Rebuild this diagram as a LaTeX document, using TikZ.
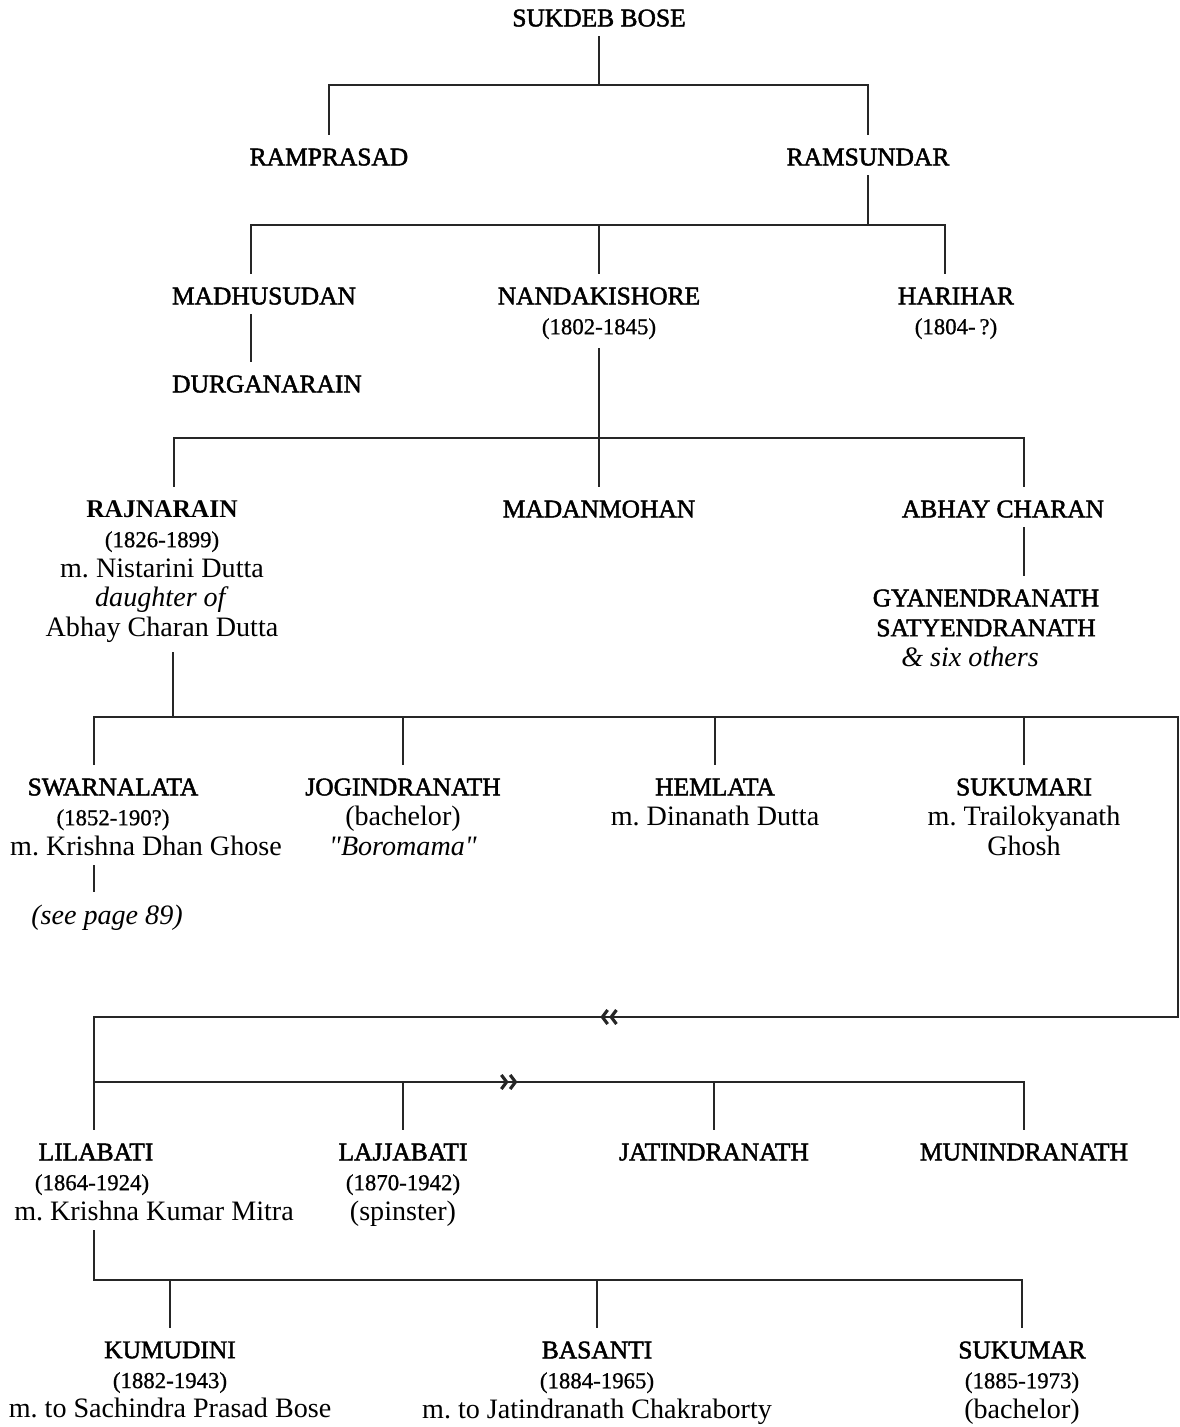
\documentclass[tikz,border=0pt]{standalone}
\usepackage{fontspec}
\setmainfont{Liberation Serif}
\newfontfamily\namefont[FakeBold=1.8]{Liberation Serif}
\newfontfamily\datefont[FakeBold=0.8]{Liberation Serif}
\usepackage{tikz}
\usetikzlibrary{calc}
\usetikzlibrary{arrows.meta,decorations.markings}
\newdimen\pxu \pxu=0.02cm
\newcommand{\pname}[1]{{\namefont\fontsize{14.5}{17}\selectfont #1}}
\newcommand{\pdate}[1]{{\datefont\fontsize{13}{17}\selectfont #1}}
\newcommand{\person}[4]{\node[person] (#1) at ( #2 , #3 ) {#4};}
\tikzset{
  person/.style={anchor=north, align=center, inner sep=0pt, outer sep=0pt,
    text=black, font=\fontsize{16}{17}\selectfont\frenchspacing},
  link/.style={draw=black!85, line width=1.1pt, line cap=rect},
  totop/.style={shorten >=0.28cm},
  fromtop/.style={shorten <=0.28cm},
  frombot/.style={shorten <=0.2cm},
  chev/.tip={Straight Barb[length=3pt,width=8pt,line width=1.8pt] Straight Barb[length=3pt,width=8pt,line width=1.8pt]},
  loopmarks/.style={postaction={decorate}, decoration={markings,
    mark=at position 39.24cm with {\arrow{chev}},
    mark=at position 59.14cm with {\arrow{chev}}}},
}

\begin{document}
\begin{tikzpicture}[x=0.02cm, y=-0.02cm]
        \useasboundingbox (0,0) rectangle (1180,1427);

        % generations 1 and 2
        \person{sukdeb}{599}{9.5}{\pname{SUKDEB BOSE}}
        \person{ramprasad}{329}{148.5}{\pname{RAMPRASAD}}
        \person{ramsundar}{868}{148.5}{\pname{RAMSUNDAR}}

        % generation 3
        \person{madhu}{264}{287.5}{\pname{MADHUSUDAN}}
        \person{nanda}{599}{287.5}{\pname{NANDAKISHORE}\\\pdate{(1802-1845)}}
        \person{harihar}{956}{287.5}{\pname{HARIHAR}\\\pdate{(1804-\,?)}}
        \person{durga}{267}{375.5}{\pname{DURGANARAIN}}

        % generation 4
        \person{rajnarain}{162}{500.5}{{\fontsize{14.5}{17}\selectfont\bfseries RAJNARAIN}\\\pdate{(1826-1899)}\\m. Nistarini Dutta\\\textit{daughter of}\\Abhay Charan Dutta}
        \person{madan}{599}{500.5}{\pname{MADANMOHAN}}
        \person{abhay}{1003}{500.5}{\pname{ABHAY CHARAN}}
        \person{gyanen}{986}{589.5}{\pname{GYANENDRANATH}\\\pname{SATYENDRANATH}\\\textit{\& six others}\kern32\pxu}

        % generation 5
        \person{swarna}{146}{778.5}{\pname{SWARNALATA}\kern66\pxu\\\pdate{(1852-190?)}\kern66\pxu\\m. Krishna Dhan Ghose}
        \person{jogin}{403}{778.5}{\pname{JOGINDRANATH}\\(bachelor)\\\textit{\textquotedbl Boromama\textquotedbl}}
        \person{hemlata}{715}{778.5}{\pname{HEMLATA}\\m. Dinanath Dutta}
        \person{sukumari}{1024}{778.5}{\pname{SUKUMARI}\\m. Trailokyanath\\Ghosh}
        \person{seepage}{107}{905}{\textit{(see page 89)}}

        \person{lilabati}{154}{1143.5}{\pname{LILABATI}\kern116\pxu\\\pdate{(1864-1924)}\kern124\pxu\\m. Krishna Kumar Mitra}
        \person{lajja}{403}{1143.5}{\pname{LAJJABATI}\\\pdate{(1870-1942)}\\(spinster)}
        \person{jatin}{714}{1143.5}{\pname{JATINDRANATH}}
        \person{munin}{1024}{1143.5}{\pname{MUNINDRANATH}}

        % generation 6
        \person{kumudini}{170}{1341.5}{\pname{KUMUDINI}\\\pdate{(1882-1943)}\\m. to Sachindra Prasad Bose}
        \person{basanti}{597}{1341.5}{\pname{BASANTI}\\\pdate{(1884-1965)}\\m. to Jatindranath Chakraborty}
        \person{sukumar}{1022}{1341.5}{\pname{SUKUMAR}\\\pdate{(1885-1973)}\\(bachelor)}

        % bars
        \coordinate (bar1) at (599,85);
        \coordinate (bar2w) at (251,225);
        \coordinate (bar2e) at (945,225);
        \coordinate (bar3w) at (174,438);
        \coordinate (bar3e) at (1024,438);
        \coordinate (rajdrop) at (173,717);
        \coordinate (bar4w) at (94,717);
        \coordinate (bar4e) at (1178,717);
        \coordinate (bar5e) at (1178,1017);
        \coordinate (bar5w) at (94,1017);
        \coordinate (bar6w) at (94,1082);
        \coordinate (bar6e) at (1024,1082);
        \coordinate (bar7w) at (94,1280);
        \coordinate (bar7e) at (1022,1280);

        \draw[link,frombot] (sukdeb) -- (bar1);
        \draw[link,fromtop,totop] (ramprasad) |- (bar1) -| (ramsundar);

        \draw[link,frombot] (ramsundar) -- (ramsundar |- bar2w);
        \draw[link,fromtop,totop] (madhu.north -| bar2w) -- (bar2w) -- (bar2e) -- (harihar.north -| bar2e);
        \draw[link,totop] (nanda |- bar2w) -- (nanda);
        \draw[link,frombot,totop] (madhu.south -| bar2w) -- (durga.north -| bar2w);

        \draw[link,frombot] (nanda) -- (nanda |- bar3w);
        \draw[link,fromtop,totop] (rajnarain.north -| bar3w) -- (bar3w) -- (bar3e) -- (abhay.north -| bar3e);
        \draw[link,totop] (madan |- bar3w) -- (madan);
        \draw[link,frombot,totop] (abhay.south -| bar3e) -- (gyanen.north -| bar3e);

        % rajnarain's children, in two rows
        \draw[link,frombot] (rajnarain.south -| rajdrop) -- (rajdrop);
        \draw[link,loopmarks] (bar4w) -- (bar4e) -- (bar5e) -- (bar5w) -- (bar6w) -- (bar6e);
        \draw[link,totop] (bar4w) -- (bar4w |- swarna.north);
        \draw[link,totop] (jogin |- bar4w) -- (jogin);
        \draw[link,totop] (hemlata |- bar4w) -- (hemlata);
        \draw[link,totop] (sukumari |- bar4w) -- (sukumari);
        \draw[link,frombot,totop] (swarna.south -| bar4w) -- (seepage.north -| bar4w);

        \draw[link,totop] (bar6w) -- (bar6w |- lilabati.north);
        \draw[link,totop] (lajja |- bar6w) -- (lajja);
        \draw[link,totop] (jatin |- bar6w) -- (jatin);
        \draw[link,totop] (munin |- bar6w) -- (munin);

        % lilabati's children
        \draw[link,frombot,totop] (lilabati.south -| bar7w) -- (bar7w) -- (bar7e) -- (bar7e |- sukumar.north);
        \draw[link,totop] (kumudini |- bar7w) -- (kumudini);
        \draw[link,totop] (basanti |- bar7w) -- (basanti);
\end{tikzpicture}
\end{document}
